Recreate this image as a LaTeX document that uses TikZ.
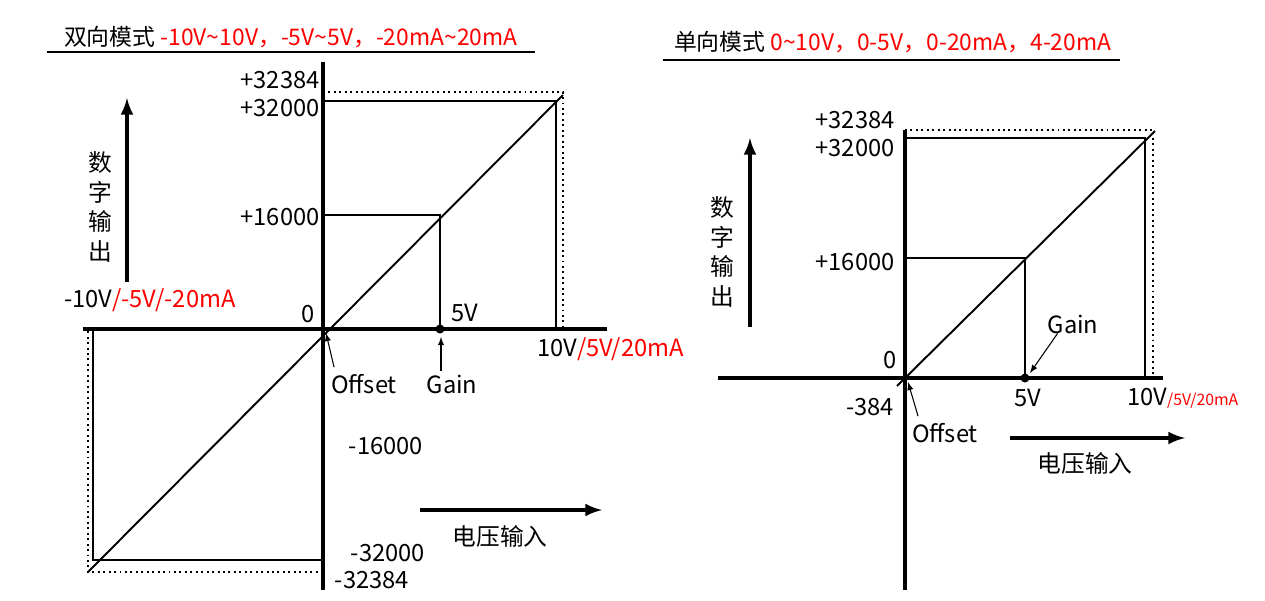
\documentclass[tikz,border=0pt]{standalone}
\usepackage{fontspec}
\setmainfont{Noto Sans CJK SC}
\usetikzlibrary{positioning}

\begin{document}
\begin{tikzpicture}[
    x=0.02cm, y=-0.02cm,
    every node/.style={font=\fontsize{13.5}{14}\selectfont, inner sep=1pt},
    axis/.style={line width=2.2pt},
    level/.style={line width=1.1pt},
    limit/.style={line width=1.1pt, dotted},
    bigarrow/.style={-latex, line width=2.2pt},
    tip/.style={-latex, line width=0.6pt},
    red/.style={text=red}
]
\useasboundingbox (0,0) rectangle (1265,600);

% left: bipolar mode
\node[anchor=west, font=\fontsize{13}{13}\selectfont] (t1) at (62,37) {双向模式 \textcolor{red}{-10V\textasciitilde10V，-5V\textasciitilde5V，-20mA\textasciitilde20mA}};
\draw[line width=1.4pt] (47,52) -- (535,52);

\coordinate (o1) at (323,329);
\coordinate (yt1) at (323,62);
\coordinate (yb1) at (323,590);
\coordinate (xl1) at (83,329);
\coordinate (xr1) at (607,329);
\draw[axis] (yt1) -- (yb1);
\draw[axis] (xl1) -- (xr1);

\draw[level] (88,572) -- (563,95);
\draw[level] (323,101) -| (556,329);
\draw[limit] (323,92) -| (563,329);
\draw[level] (323,560) -| (93,329);
\draw[limit] (323,572) -| (88,329);
\draw[level] (323,215) -| (440,329);
\fill (440,329) circle (4.5);

\node (lp32384) at (280,80) {+32384};
\node (lp32000) at (280,108) {+32000};
\node (lp16000) at (280,217) {+16000};
\node (lzero) at (308,314) {0};
\node (l5v) at (465,313) {5V};
\node[anchor=west] (lneg) at (62,300) {-10V\textcolor{red}{/-5V/-20mA}};
\node[anchor=west] (lpos) at (535,349) {10V\textcolor{red}{/5V/20mA}};
\node (loff) at (364,384) {Offset};
\node (lgain) at (452,384) {Gain};
\node (ln16000) at (386,446) {-16000};
\node (ln32000) at (388,553) {-32000};
\node (ln32384) at (372,580) {-32384};
\draw[tip] (loff.north west) ++(5,-5) -- (326,333);
\draw[tip] (lgain.north) ++(-11,-2) -- (441,337);

\node[align=center, font=\fontsize{13.5}{17}\selectfont] (ly1) at (100,207) {数\\字\\输\\出};
\coordinate (ua1) at (127,282);
\coordinate (ub1) at (127,98);
\draw[bigarrow] (ua1) -- (ub1);
\coordinate (ra1) at (420,510);
\coordinate (rb1) at (602,510);
\draw[bigarrow] (ra1) -- (rb1);
\node (lx1) at (500,536) {电压输入};

% right: unipolar mode
\node[anchor=west, font=\fontsize{13}{13}\selectfont] (t2) at (672,42) {单向模式 \textcolor{red}{0\textasciitilde10V，0-5V，0-20mA，4-20mA}};
\draw[line width=1.4pt] (663,60) -- (1120,60);

\coordinate (o2) at (905,378);
\draw[axis] (905,130) -- (905,590);
\draw[axis] (718,378) -- (1163,378);
\draw[level] (897,386) -- (1155,131);
\draw[level] (905,138) -| (1145,378);
\draw[limit] (905,130) -| (1153,378);
\draw[level] (905,258) -| (1025,378);
\fill (1025,378) circle (4.5);

\node (rp32384) at (855,120) {+32384};
\node (rp32000) at (855,148) {+32000};
\node (rp16000) at (855,262) {+16000};
\node (rzero) at (890,360) {0};
\node (rn384) at (870,407) {-384};
\node (r5v) at (1028,398) {5V};
\node[anchor=west] (rpos) at (1125,398) {10V\textcolor{red}{\fontsize{9}{10}\selectfont/5V/20mA}};
\node (roff) at (945,433) {Offset};
\node (rgain) at (1073,324) {Gain};
\draw[tip] (roff.north west) ++(8,-5) -- (908,382);
\draw[tip] (rgain.south west) ++(12,-2) -- (1030,373);

\node[align=center, font=\fontsize{13.5}{17}\selectfont] (ly2) at (722,252) {数\\字\\输\\出};
\draw[bigarrow] (750,327) -- (750,138);
\draw[bigarrow] (1010,438) -- (1185,438);
\node (lx2) at (1085,463) {电压输入};
\end{tikzpicture}
\end{document}
